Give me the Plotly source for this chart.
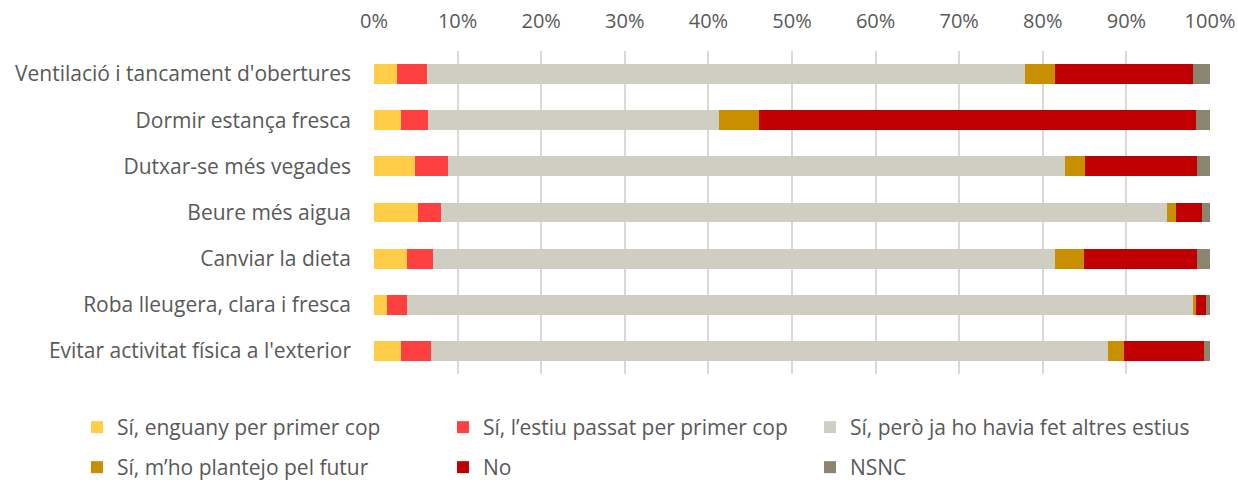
import plotly.graph_objects as go

categories = [
    "Ventilació i tancament d'obertures",
    "Dormir estança fresca",
    "Dutxar-se més vegades",
    "Beure més aigua",
    "Canviar la dieta",
    "Roba lleugera, clara i fresca",
    "Evitar activitat física a l'exterior",
]

series_names = [
    "Sí, enguany per primer cop",
    "Sí, l’estiu passat per primer cop",
    "Sí, però ja ho havia fet altres estius",
    "Sí, m’ho plantejo pel futur",
    "No",
    "NSNC",
]

enguany = [2.7, 3.2, 4.85, 5.3, 3.9, 1.5, 3.2]
estiu_passat = [3.6, 3.3, 4.05, 2.7, 3.1, 2.4, 3.6]
altres_estius = [71.6, 34.8, 73.8, 86.9, 74.5, 94.1, 81.0]
futur = [3.6, 4.7, 2.4, 1.0, 3.4, 0.3, 1.9]
no = [16.5, 52.3, 13.4, 3.1, 13.6, 1.2, 9.6]
nsnc = [2.0, 1.7, 1.5, 1.0, 1.5, 0.5, 0.7]

values = [enguany, estiu_passat, altres_estius, futur, no, nsnc]
colors = ["#FFCD47", "#FF4040", "#D0CEC2", "#C89000", "#C00000", "#8B8570"]

font_family = "'Open Sans', sans-serif"
text_color = "#595959"
fsize = 21
tick_size = 20

# legend grid positions (paper coords): 3 columns x 2 rows
legend_x = [-0.3553, 0.0825, 0.5215]
legend_y = [-0.1656, -0.2895]

fig = go.Figure()
legend_layouts = {}
for i, (name, vals, col) in enumerate(zip(series_names, values, colors)):
    key = "legend" if i == 0 else f"legend{i + 1}"
    fig.add_trace(go.Bar(
        y=categories,
        x=vals,
        name=name,
        orientation="h",
        marker=dict(color=col, line=dict(width=0)),
        legend=key,
        hovertemplate="%{y}: %{x}%<extra>" + name + "</extra>",
    ))
    legend_layouts[key] = dict(
        orientation="h",
        x=legend_x[i % 3], xanchor="left",
        y=legend_y[i // 3], yanchor="middle",
        font=dict(size=fsize, color=text_color, family=font_family),
        itemwidth=30,
        bgcolor="rgba(0,0,0,0)",
    )

fig.update_layout(
    barmode="stack",
    bargap=0.567,
    width=1238,
    height=484,
    margin=dict(l=374, r=28, t=51, b=110, autoexpand=False),
    plot_bgcolor="white",
    paper_bgcolor="white",
    font=dict(family=font_family, size=fsize, color=text_color),
    xaxis=dict(
        side="top",
        range=[0, 100],
        tickvals=[0, 10, 20, 30, 40, 50, 60, 70, 80, 90, 100],
        ticktext=[f"{v}%" for v in range(0, 101, 10)],
        showgrid=True,
        gridcolor="#D9D9D9",
        gridwidth=2,
        zeroline=False,
        showline=False,
        tickfont=dict(size=tick_size, color=text_color),
        ticks="",
        ticklabelstandoff=18,
        fixedrange=True,
    ),
    yaxis=dict(
        autorange="reversed",
        showgrid=False,
        showline=False,
        ticks="",
        ticklabelstandoff=22,
        tickfont=dict(size=fsize, color=text_color),
    ),
    showlegend=True,
    **legend_layouts,
)

fig.write_html(
    "out.html",
    config={"displayModeBar": False},
    post_script="document.body.style.margin='0';",
)
